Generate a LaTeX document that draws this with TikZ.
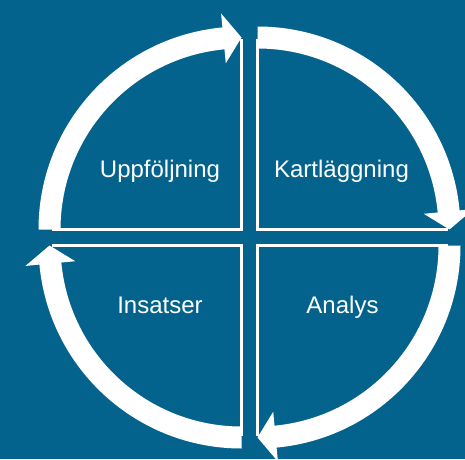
\documentclass[tikz,border=0pt]{standalone}
\usepackage{fontspec}
\setmainfont{Liberation Sans}
\definecolor{bgblue}{RGB}{4,99,141}
\tikzset{
  ring/.style={fill=white},
  edge/.style={draw=white, line width=3.5pt},
  qtext/.style={text=white, font=\fontsize{24}{28}\selectfont, anchor=base}
}

\begin{document}
\begin{tikzpicture}[x=1pt,y=1pt]
  \fill[bgblue] (0,0) rectangle (465,459);
  \clip (0,0) rectangle (465,459);
  \coordinate (mid) at (249.5,221.5);

  % four quarters, each one turned by 90 degrees
  \foreach \a in {0,-90,-180,-270} {
    \begin{scope}[shift={(mid)}, rotate=\a, shift={(-8,8)}]
      \draw[edge] (180:190) -- (0,0) -- (90:190);
      \fill[ring] (180:203) arc[start angle=180, end angle=95.4, radius=203]
        -- (95.4:217) -- (90:192) -- (95.4:167) -- (95.4:181)
        arc[start angle=95.4, end angle=180, radius=181] -- cycle;
    \end{scope}
  }

  \node[qtext] (upp) at (160,282) {Uppföljning};
  \node[qtext] (kart) at (341.5,282) {Kartläggning};
  \node[qtext] (ins) at (160,146) {Insatser};
  \node[qtext] (ana) at (342.5,146) {Analys};
\end{tikzpicture}
\end{document}
